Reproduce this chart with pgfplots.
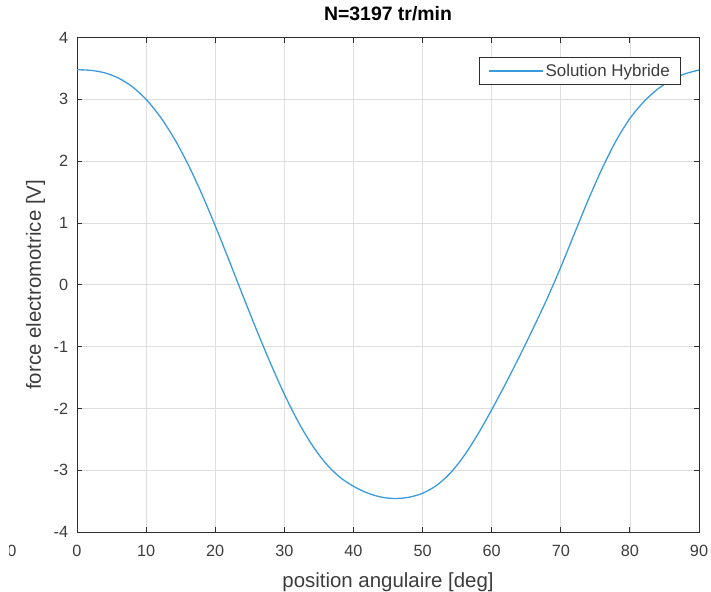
\documentclass[border=0pt]{standalone}
\usepackage{fontspec}
\setmainfont{Liberation Sans}
\usepackage{pgfplots}
\pgfplotsset{compat=1.18}
\definecolor{mblue}{RGB}{60,155,222}
\definecolor{axgray}{RGB}{45,45,45}
\definecolor{txtgray}{RGB}{60,60,60}
\begin{document}
\begin{tikzpicture}
\begin{axis}[
  name=ax,
  scale only axis,
  width=622bp, height=494.4bp,
  xmin=0, xmax=90, ymin=-4, ymax=4,
  xtick={0,10,...,90}, ytick={-4,-3,...,4},
  grid=major,
  major grid style={draw=black!13, line width=0.7bp},
  axis line style={draw=axgray, line width=0.9bp},
  tick style={draw=axgray, line width=0.9bp},
  tick align=inside,
  major tick length=5bp,
  /pgf/number format/assume math mode=true,
  ticklabel style={font=\fontsize{16.3}{18}\selectfont, text=txtgray, inner sep=0pt},
  xticklabel style={anchor=north, yshift=-13bp},
  yticklabel style={anchor=east, xshift=-8.7bp},
  title={N=3197 tr/min},
  title style={font=\bfseries\fontsize{19.5}{22}\selectfont, at={(0.5,1)}, anchor=base, yshift=10.9bp, inner sep=0pt},
  xlabel={position angulaire [deg]},
  xlabel style={font=\fontsize{20.5}{24}\selectfont, text=txtgray, at={(0.5,0)}, anchor=base, yshift=-55bp, inner sep=0pt},
  legend style={at={(1,1)}, anchor=north east, xshift=-18.3bp, yshift=-19.7bp,
    draw=axgray, line width=0.8bp, font=\fontsize{17}{19}\selectfont, text=txtgray,
    inner xsep=8.5bp, inner ysep=4.5bp},
  legend cell align=left,
  legend image code/.code={\draw[#1, line width=1.4bp] (0bp,0bp) -- (54bp,0bp);},
]
\addplot[mblue, line width=1.3bp, smooth] table {
x y
0 3.48
2 3.47
4 3.43
6 3.345
8 3.205
10 3.00
12 2.725
14 2.38
16 1.965
18 1.485
20 0.955
22 0.395
24 -0.175
26 -0.735
28 -1.27
30 -1.77
32 -2.215
34 -2.59
36 -2.89
38 -3.11
40 -3.26
42 -3.368
44 -3.435
46 -3.458
48 -3.438
50 -3.373
52 -3.248
54 -3.048
56 -2.768
58 -2.418
60 -2.023
62 -1.603
64 -1.163
66 -0.706
68 -0.229
70 0.286
72 0.836
74 1.381
76 1.886
78 2.331
80 2.691
82 2.961
84 3.165
86 3.315
88 3.415
90 3.475
};
\addlegendentry{Solution Hybride}
\end{axis}
\node[rotate=90, anchor=base, inner sep=0pt, font=\fontsize{20.5}{24}\selectfont, text=txtgray] at ([xshift=-36bp]ax.west) {force electromotrice [V]};
\begin{scope}
\clip ([xshift=-67bp,yshift=-35bp]ax.south west) rectangle ([xshift=-57bp,yshift=-5bp]ax.south west);
\node[anchor=north east, inner sep=0pt, font=\fontsize{16.3}{18}\selectfont, text=txtgray] at ([xshift=-60.3bp,yshift=-13bp]ax.south west) {0};
\end{scope}
\pgfresetboundingbox
\path ([xshift=-77bp,yshift=-59bp]ax.south west) rectangle ([xshift=12bp,yshift=37.6bp]ax.north east);
\end{tikzpicture}
\end{document}
